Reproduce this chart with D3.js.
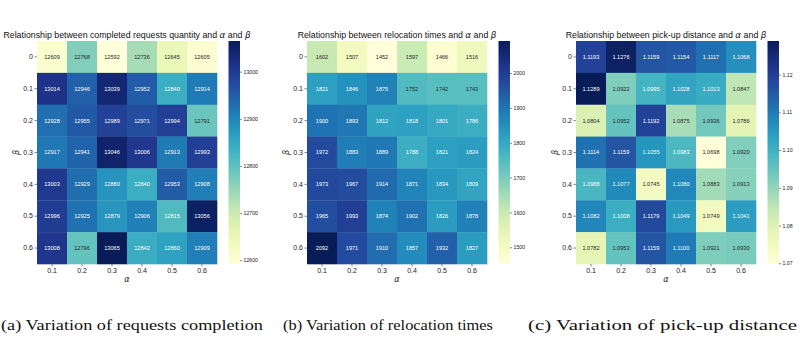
<!DOCTYPE html>
<html>
<head>
<meta charset="utf-8">
<script src="https://cdn.jsdelivr.net/npm/d3@7"></script>
<style>
  body { margin: 0; background: #fff; }
  svg { display: block; }
</style>
</head>
<body>
<div id="chart"></div>
<script>
// axis categories
const alphas = ["0.1", "0.2", "0.3", "0.4", "0.5", "0.6"];
const betas = ["0", "0.1", "0.2", "0.3", "0.4", "0.5", "0.6"];

// completed requests (rows = beta, cols = alpha)
const requests = [
  [12609, 12768, 12592, 12736, 12645, 12605],
  [13014, 12946, 13039, 12952, 12840, 12914],
  [12928, 12955, 12989, 12971, 12994, 12791],
  [12917, 12941, 13046, 13006, 12913, 12993],
  [13003, 12929, 12880, 12840, 12953, 12908],
  [12996, 12925, 12879, 12906, 12815, 13056],
  [13008, 12796, 13065, 12842, 12860, 12909]
];

// relocation times
const relocations = [
  [1602, 1507, 1452, 1597, 1466, 1516],
  [1821, 1846, 1875, 1752, 1742, 1743],
  [1900, 1893, 1812, 1818, 1801, 1786],
  [1972, 1883, 1889, 1788, 1821, 1824],
  [1973, 1967, 1914, 1871, 1834, 1809],
  [1965, 1993, 1874, 1902, 1826, 1878],
  [2092, 1971, 1910, 1857, 1932, 1827]
];

// pick-up distance
const pickups = [
  [1.1193, 1.1276, 1.1159, 1.1154, 1.1117, 1.1068],
  [1.1289, 1.0922, 1.0995, 1.1028, 1.1013, 1.0847],
  [1.0804, 1.0952, 1.1192, 1.0875, 1.0936, 1.0786],
  [1.1114, 1.1159, 1.1055, 1.0983, 1.0698, 1.0920],
  [1.0988, 1.1077, 1.0745, 1.1080, 1.0883, 1.0913],
  [1.1082, 1.1008, 1.1179, 1.1049, 1.0749, 1.1041],
  [1.0782, 1.0953, 1.1159, 1.1100, 1.0921, 1.0930]
];

// colorbar ticks
const requestTicks = [12600, 12700, 12800, 12900, 13000];
const relocationTicks = [1500, 1600, 1700, 1800, 1900, 2000];
const pickupTicks = [1.07, 1.08, 1.09, 1.10, 1.11, 1.12];

const titles = [
  "Relationship between completed requests quantity and ",
  "Relationship between relocation times and ",
  "Relationship between pick-up distance and "
];
const captions = [
  "(a) Variation of requests completion",
  "(b) Variation of relocation times",
  "(c) Variation of pick-up distance"
];

const width = 800;
const height = 337;
const mapTop = 41, mapBottom = 264;
const mapWidth = 180;

const svg = d3.select("#chart").append("svg")
  .attr("width", width)
  .attr("height", height)
  .style("font-family", "Liberation Sans, Arial, sans-serif");

const defs = svg.append("defs");
const grad = defs.append("linearGradient")
  .attr("id", "ylgnbu")
  .attr("x1", "0%").attr("x2", "0%")
  .attr("y1", "100%").attr("y2", "0%");
d3.range(0, 1.0001, 0.05).forEach(t => {
  grad.append("stop").attr("offset", (t * 100) + "%").attr("stop-color", d3.interpolateYlGnBu(t));
});

// seaborn style: dark text on light cells, white on dark ones
function textColor(c) {
  const rgb = d3.rgb(c);
  const lin = v => { v /= 255; return v <= 0.03928 ? v / 12.92 : Math.pow((v + 0.055) / 1.055, 2.4); };
  const lum = 0.2126 * lin(rgb.r) + 0.7152 * lin(rgb.g) + 0.0722 * lin(rgb.b);
  return lum > 0.408 ? "#262626" : "#fff";
}

function drawPanel(left, values, ticks, fmt, tickFmt, title, caption, captionX, captionLen) {
  const g = svg.append("g");

  const x = d3.scaleBand().domain(alphas).range([left, left + mapWidth]);
  const y = d3.scaleBand().domain(betas).range([mapTop, mapBottom]);
  const flat = values.flat();
  const color = d3.scaleSequential(d3.interpolateYlGnBu).domain(d3.extent(flat));

  const cells = [];
  values.forEach((row, i) => row.forEach((v, j) => cells.push({ b: betas[i], a: alphas[j], v })));

  g.selectAll("rect.cell")
    .data(cells)
    .join("rect")
    .attr("class", "cell")
    .attr("x", d => x(d.a))
    .attr("y", d => y(d.b))
    .attr("width", x.bandwidth() + 0.3)
    .attr("height", y.bandwidth() + 0.3)
    .attr("fill", d => color(d.v));

  g.selectAll("text.val")
    .data(cells)
    .join("text")
    .attr("class", "val")
    .attr("x", d => x(d.a) + x.bandwidth() / 2)
    .attr("y", d => y(d.b) + y.bandwidth() / 2)
    .attr("dy", "0.35em")
    .attr("text-anchor", "middle")
    .attr("font-size", 5.6)
    .attr("fill", d => textColor(color(d.v)))
    .text(d => fmt(d.v));

  // axes
  const xAxis = g.append("g")
    .attr("transform", `translate(0,${mapBottom})`)
    .call(d3.axisBottom(x).tickSize(2.5).tickPadding(2));
  const yAxis = g.append("g")
    .attr("transform", `translate(${left},0)`)
    .call(d3.axisLeft(y).tickSize(2.5).tickPadding(1.5));
  [xAxis, yAxis].forEach(ax => {
    ax.select(".domain").remove();
    ax.selectAll(".tick line").attr("stroke", "#333").attr("stroke-width", 0.6);
    ax.selectAll(".tick text").attr("font-size", 7).attr("fill", "#1a1a1a")
      .attr("font-family", "Liberation Sans, Arial, sans-serif");
  });

  g.append("text")
    .attr("x", left + mapWidth / 2)
    .attr("y", 282)
    .attr("text-anchor", "middle")
    .attr("font-size", 8)
    .attr("font-style", "italic")
    .attr("font-family", "DejaVu Sans, sans-serif")
    .attr("fill", "#222")
    .text("α");

  g.append("text")
    .attr("transform", `translate(${left - 18},${(mapTop + mapBottom) / 2}) rotate(-90)`)
    .attr("text-anchor", "middle")
    .attr("font-size", 8)
    .attr("font-style", "italic")
    .attr("font-family", "DejaVu Sans, sans-serif")
    .attr("fill", "#222")
    .text("β");

  // title
  const t = g.append("text")
    .attr("x", left + mapWidth / 2)
    .attr("y", 37.5)
    .attr("text-anchor", "middle")
    .attr("font-size", 8.8)
    .attr("fill", "#111");
  t.append("tspan").text(title);
  t.append("tspan").attr("font-style", "italic").attr("font-family", "DejaVu Sans, sans-serif").text("α");
  t.append("tspan").text(" and ");
  t.append("tspan").attr("font-style", "italic").attr("font-family", "DejaVu Sans, sans-serif").text("β");

  // colorbar
  const cbX = left + 191.5;
  const cbW = 11.5;
  g.append("rect")
    .attr("x", cbX).attr("y", mapTop)
    .attr("width", cbW).attr("height", mapBottom - mapTop)
    .attr("fill", "url(#ylgnbu)");
  const cb = d3.scaleLinear().domain(d3.extent(flat)).range([mapBottom, mapTop]);
  const cbAxis = g.append("g")
    .attr("transform", `translate(${cbX + cbW},0)`)
    .call(d3.axisRight(cb).tickValues(ticks).tickFormat(tickFmt).tickSize(2).tickPadding(1.5));
  cbAxis.select(".domain").remove();
  cbAxis.selectAll(".tick line").attr("stroke", "#333").attr("stroke-width", 0.6);
  cbAxis.selectAll(".tick text").attr("font-size", 5.2).attr("fill", "#222")
    .attr("font-family", "Liberation Sans, Arial, sans-serif");

  // caption
  svg.append("text")
    .attr("x", captionX)
    .attr("y", 330)
    .attr("font-size", 14)
    .attr("font-family", "Liberation Serif, Times New Roman, serif")
    .attr("fill", "#111")
    .attr("textLength", captionLen)
    .attr("lengthAdjust", "spacingAndGlyphs")
    .text(caption);
}

drawPanel(37, requests, requestTicks, d3.format("d"), d3.format("d"), titles[0], captions[0], 1, 262);
drawPanel(307, relocations, relocationTicks, d3.format("d"), d3.format("d"), titles[1], captions[1], 283, 210);
drawPanel(576, pickups, pickupTicks, d3.format(".4f"), d3.format(".2f"), titles[2], captions[2], 528, 269);
</script>
</body>
</html>
